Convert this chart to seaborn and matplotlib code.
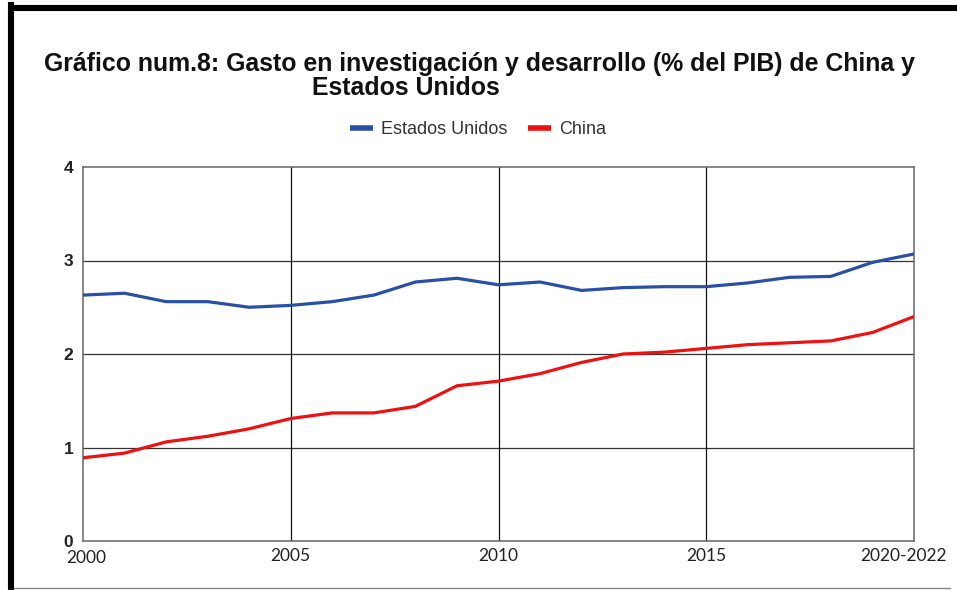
import matplotlib
matplotlib.use("Agg")
import matplotlib.pyplot as plt
import matplotlib.transforms as mtransforms
from matplotlib.lines import Line2D
import seaborn as sns
import pandas as pd

years = list(range(2000, 2021))
usa = [2.63, 2.65, 2.56, 2.56, 2.50, 2.52, 2.56, 2.63, 2.77, 2.81,
       2.74, 2.77, 2.68, 2.71, 2.72, 2.72, 2.76, 2.82, 2.83, 2.98, 3.07]
china = [0.89, 0.94, 1.06, 1.12, 1.20, 1.31, 1.37, 1.37, 1.44, 1.66,
         1.71, 1.79, 1.91, 2.00, 2.02, 2.06, 2.10, 2.12, 2.14, 2.23, 2.40]
series_names = ["Estados Unidos", "China"]
x_ticks = [2000, 2005, 2010, 2015, 2020]
x_tick_labels = ["2000", "2005", "2010", "2015", "2020-2022"]
y_ticks = [0, 1, 2, 3, 4]
title_line1 = "Gráfico num.8: Gasto en investigación y desarrollo (% del PIB) de China y"
title_line2 = "Estados Unidos"

colors = {"Estados Unidos": "#2a4fa8", "China": "#ee1111"}

df = pd.DataFrame({
    "year": years * 2,
    "value": usa + china,
    "serie": [series_names[0]] * len(years) + [series_names[1]] * len(years),
})

sns.set_theme(style="white")
plt.rcParams["font.family"] = ["Liberation Sans", "DejaVu Sans"]

fig = plt.figure(figsize=(9.57, 5.90), dpi=100)
ax = fig.add_axes([83 / 957, 1 - 541 / 590, (914 - 83) / 957, (541 - 167) / 590])

sns.lineplot(data=df, x="year", y="value", hue="serie", palette=colors,
             hue_order=series_names, linewidth=2.3, ax=ax, legend=False, zorder=3)

ax.set_xlim(2000, 2020)
ax.set_ylim(0, 4)
ax.set_xticks(x_ticks)
ax.set_xticklabels(x_tick_labels, fontfamily=["Lato", "DejaVu Sans"], fontsize=12.5, color="#222222")
ax.set_yticks(y_ticks)
ax.set_yticklabels([str(v) for v in y_ticks], fontsize=12.5, fontweight="bold", color="#222222")
ax.tick_params(axis="both", length=0)
ax.tick_params(axis="x", pad=5)
ax.tick_params(axis="y", pad=7)
ax.set_xlabel("")
ax.set_ylabel("")

# grid lines
for yv in [1, 2, 3]:
    ax.axhline(yv, color="#333333", lw=0.9, zorder=1)
for xv in [2005, 2010, 2015]:
    ax.axvline(xv, color="#111111", lw=0.9, zorder=1)
for s in ax.spines.values():
    s.set_color("#666666")
    s.set_linewidth(1.1)
    s.set_visible(True)

# shift first/last x labels slightly
labels = ax.get_xticklabels()
off = mtransforms.ScaledTranslation(-11 / 100, 0, fig.dpi_scale_trans)
labels[-1].set_transform(labels[-1].get_transform() + off)
off0 = mtransforms.ScaledTranslation(3 / 100, -2 / 100, fig.dpi_scale_trans)
labels[0].set_transform(labels[0].get_transform() + off0)

# titles
fig.text(479 / 957, 1 - 64 / 590, title_line1, ha="center", va="center",
         fontsize=17.9, fontweight="bold", color="#111111")
fig.text(406 / 957, 1 - 88 / 590, title_line2, ha="center", va="center",
         fontsize=17.9, fontweight="bold", color="#111111")

# legend
handles = [Line2D([0], [0], color=colors[n], lw=4.0, solid_capstyle="butt") for n in series_names]
fig.legend(handles, series_names, loc="center", bbox_to_anchor=(478 / 957, 1 - 130 / 590),
           ncol=2, frameon=False, fontsize=13, handlelength=1.3, handletextpad=0.45,
           columnspacing=1.1, labelcolor="#333333")

# outer frame
fig.add_artist(Line2D([11 / 957, 11 / 957], [0, 1 - 5 / 590], transform=fig.transFigure,
                      color="black", lw=4.4, solid_capstyle="projecting"))
fig.add_artist(Line2D([8 / 957, 1], [1 - 8 / 590, 1 - 8 / 590], transform=fig.transFigure,
                      color="black", lw=4.4, solid_capstyle="butt"))
fig.add_artist(Line2D([14 / 957, 950 / 957], [1 - 588 / 590, 1 - 588 / 590], transform=fig.transFigure,
                      color="#888888", lw=1.0))

fig.savefig("out.png", dpi=100, facecolor="white")
